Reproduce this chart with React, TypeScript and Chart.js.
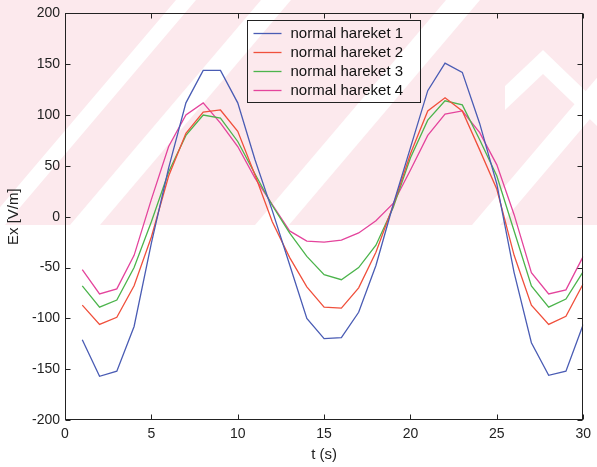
import React, { useEffect, useRef } from "react";
import { Chart, registerables } from "chart.js";

Chart.register(...registerables);

const tValues = [1, 2, 3, 4, 5, 6, 7, 8, 9, 10, 11, 12, 13, 14, 15, 16, 17, 18, 19, 20, 21, 22, 23, 24, 25, 26, 27, 28, 29, 30];
const hareket1 = [-121, -157, -152, -108, -26, 48, 112, 144, 144, 112, 56, 6, -47, -100, -120, -119, -94, -48, 12, 68, 124, 151, 142, 92, 32, -55, -124, -156, -152, -106];
const hareket2 = [-87, -106, -99, -68, -20, 40, 82, 103, 105, 84, 41, -5, -40, -69, -89, -90, -70, -35, 11, 62, 104, 117, 104, 66, 27, -38, -87, -106, -98, -66];
const hareket3 = [-68, -89, -82, -50, -5, 44, 80, 100, 97, 74, 42, 11, -16, -39, -57, -62, -50, -28, 9, 58, 95, 114, 110, 76, 40, -14, -68, -89, -81, -54];
const hareket4 = [-52, -76, -71, -38, 17, 69, 100, 112, 92, 69, 38, 12, -14, -24, -25, -23, -16, -4, 13, 46, 80, 101, 104, 83, 51, 2, -55, -76, -72, -39];

const seriesLabels = ["normal hareket 1", "normal hareket 2", "normal hareket 3", "normal hareket 4"];
const seriesColors = ["#4a5cb4", "#f0503c", "#4cb44c", "#e4449c"];
const xTickValues = [0, 5, 10, 15, 20, 25, 30];
const yTickValues = [-200, -150, -100, -50, 0, 50, 100, 150, 200];

const FONT = "'Liberation Sans', Arial, sans-serif";

const watermarkPlugin = {
  id: "watermark",
  beforeDraw(chart: any) {
    const { ctx, width } = chart;
    const bandH = 225;
    ctx.save();
    ctx.fillStyle = "#fce9ed";
    ctx.fillRect(0, 0, width, bandH);
    ctx.beginPath();
    ctx.rect(0, 0, width, bandH);
    ctx.clip();
    ctx.fillStyle = "#ffffff";
    const stripe = (xb: number, xt: number, w: number) => {
      ctx.beginPath();
      ctx.moveTo(xb, bandH);
      ctx.lineTo(xb + w, bandH);
      ctx.lineTo(xt + w, 0);
      ctx.lineTo(xt, 0);
      ctx.closePath();
      ctx.fill();
    };
    stripe(-15, 176, 20);
    stripe(70, 261, 30);
    stripe(255, 446, 34);
    stripe(472, 663, 28);
    // chevron on the right
    ctx.beginPath();
    ctx.moveTo(543, 50);
    ctx.lineTo(597, 102);
    ctx.lineTo(597, 126);
    ctx.lineTo(543, 74);
    ctx.lineTo(505, 110);
    ctx.lineTo(505, 86);
    ctx.closePath();
    ctx.fill();
    ctx.restore();
  },
};

const framePlugin = {
  id: "frame",
  afterDraw(chart: any) {
    const { ctx, chartArea, scales } = chart;
    const { left, right, top, bottom } = chartArea;
    const xs = scales.x;
    const ys = scales.y;
    ctx.save();
    ctx.strokeStyle = "#222222";
    ctx.lineWidth = 1;
    const L = Math.round(left) + 0.5;
    const R = Math.round(right) - 0.5;
    const T = Math.round(top) + 0.5;
    const B = Math.round(bottom) - 0.5;
    ctx.strokeRect(L, T, R - L, B - T);
    const tick = 5;
    ctx.beginPath();
    xTickValues.forEach((v) => {
      const px = Math.round(xs.getPixelForValue(v)) + 0.5;
      ctx.moveTo(px, B);
      ctx.lineTo(px, B - tick);
      ctx.moveTo(px, T);
      ctx.lineTo(px, T + tick);
    });
    yTickValues.forEach((v) => {
      const py = Math.round(ys.getPixelForValue(v)) + 0.5;
      ctx.moveTo(L, py);
      ctx.lineTo(L + tick, py);
      ctx.moveTo(R, py);
      ctx.lineTo(R - tick, py);
    });
    ctx.stroke();

    // legend box
    const bx = Math.round(left) + 182 + 0.5;
    const by = Math.round(top) + 7 + 0.5;
    const bw = 173;
    const bh = 82;
    ctx.strokeRect(bx, by, bw, bh);
    ctx.font = `15px ${FONT}`;
    ctx.textBaseline = "middle";
    ctx.textAlign = "left";
    ctx.lineWidth = 1.3;
    seriesLabels.forEach((label, i) => {
      const ry = Math.round(by + 12 + i * 19.3) + 0.5;
      ctx.strokeStyle = seriesColors[i];
      ctx.beginPath();
      ctx.moveTo(bx + 6, ry);
      ctx.lineTo(bx + 34, ry);
      ctx.stroke();
      ctx.fillStyle = "#111111";
      ctx.fillText(label, bx + 43, ry);
    });
    ctx.restore();
  },
};

export default function App() {
  const canvasRef = useRef<HTMLCanvasElement | null>(null);

  useEffect(() => {
    const canvas = canvasRef.current;
    if (!canvas) return;
    const datasets = [hareket1, hareket2, hareket3, hareket4].map((vals, i) => ({
      label: seriesLabels[i],
      data: tValues.map((t, j) => ({ x: t, y: vals[j] })),
      borderColor: seriesColors[i],
      backgroundColor: seriesColors[i],
      borderWidth: 1.3,
      pointRadius: 0,
      tension: 0,
      fill: false,
    }));
    const chart = new Chart(canvas, {
      type: "line",
      data: { datasets },
      plugins: [watermarkPlugin, framePlugin],
      options: {
        animation: false,
        responsive: false,
        devicePixelRatio: 1,
        layout: { padding: { left: 0, top: 10, right: 8, bottom: 0 } },
        plugins: {
          legend: { display: false },
          title: { display: false },
          tooltip: { enabled: false },
        },
        scales: {
          x: {
            type: "linear",
            min: 0,
            max: 30,
            afterBuildTicks: (scale: any) => {
              scale.ticks = xTickValues.map((v) => ({ value: v }));
            },
            afterFit: (scale: any) => {
              scale.height = 47;
            },
            grid: { display: false, drawTicks: false },
            border: { display: false },
            ticks: {
              padding: 6,
              color: "#222222",
              font: { family: FONT, size: 14 },
              maxRotation: 0,
              autoSkip: false,
            },
            title: {
              display: true,
              text: "t (s)",
              color: "#222222",
              font: { family: FONT, size: 15 },
              padding: { top: 0, bottom: 3 },
            },
          },
          y: {
            type: "linear",
            min: -200,
            max: 200,
            afterBuildTicks: (scale: any) => {
              scale.ticks = yTickValues.map((v) => ({ value: v }));
            },
            afterFit: (scale: any) => {
              scale.width = 65;
            },
            grid: { display: false, drawTicks: false },
            border: { display: false },
            ticks: {
              padding: 5,
              color: "#222222",
              font: { family: FONT, size: 14 },
              autoSkip: false,
            },
            title: {
              display: true,
              text: "Ex [V/m]",
              color: "#222222",
              font: { family: FONT, size: 15 },
              padding: { top: 5, bottom: 0 },
            },
          },
        },
      },
    } as any);
    return () => chart.destroy();
  }, []);

  return (
    <div style={{ position: "absolute", left: 0, top: 0, width: 597, height: 467, background: "#ffffff" }}>
      <canvas ref={canvasRef} width={597} height={467} style={{ display: "block", width: 597, height: 467 }} />
    </div>
  );
}
